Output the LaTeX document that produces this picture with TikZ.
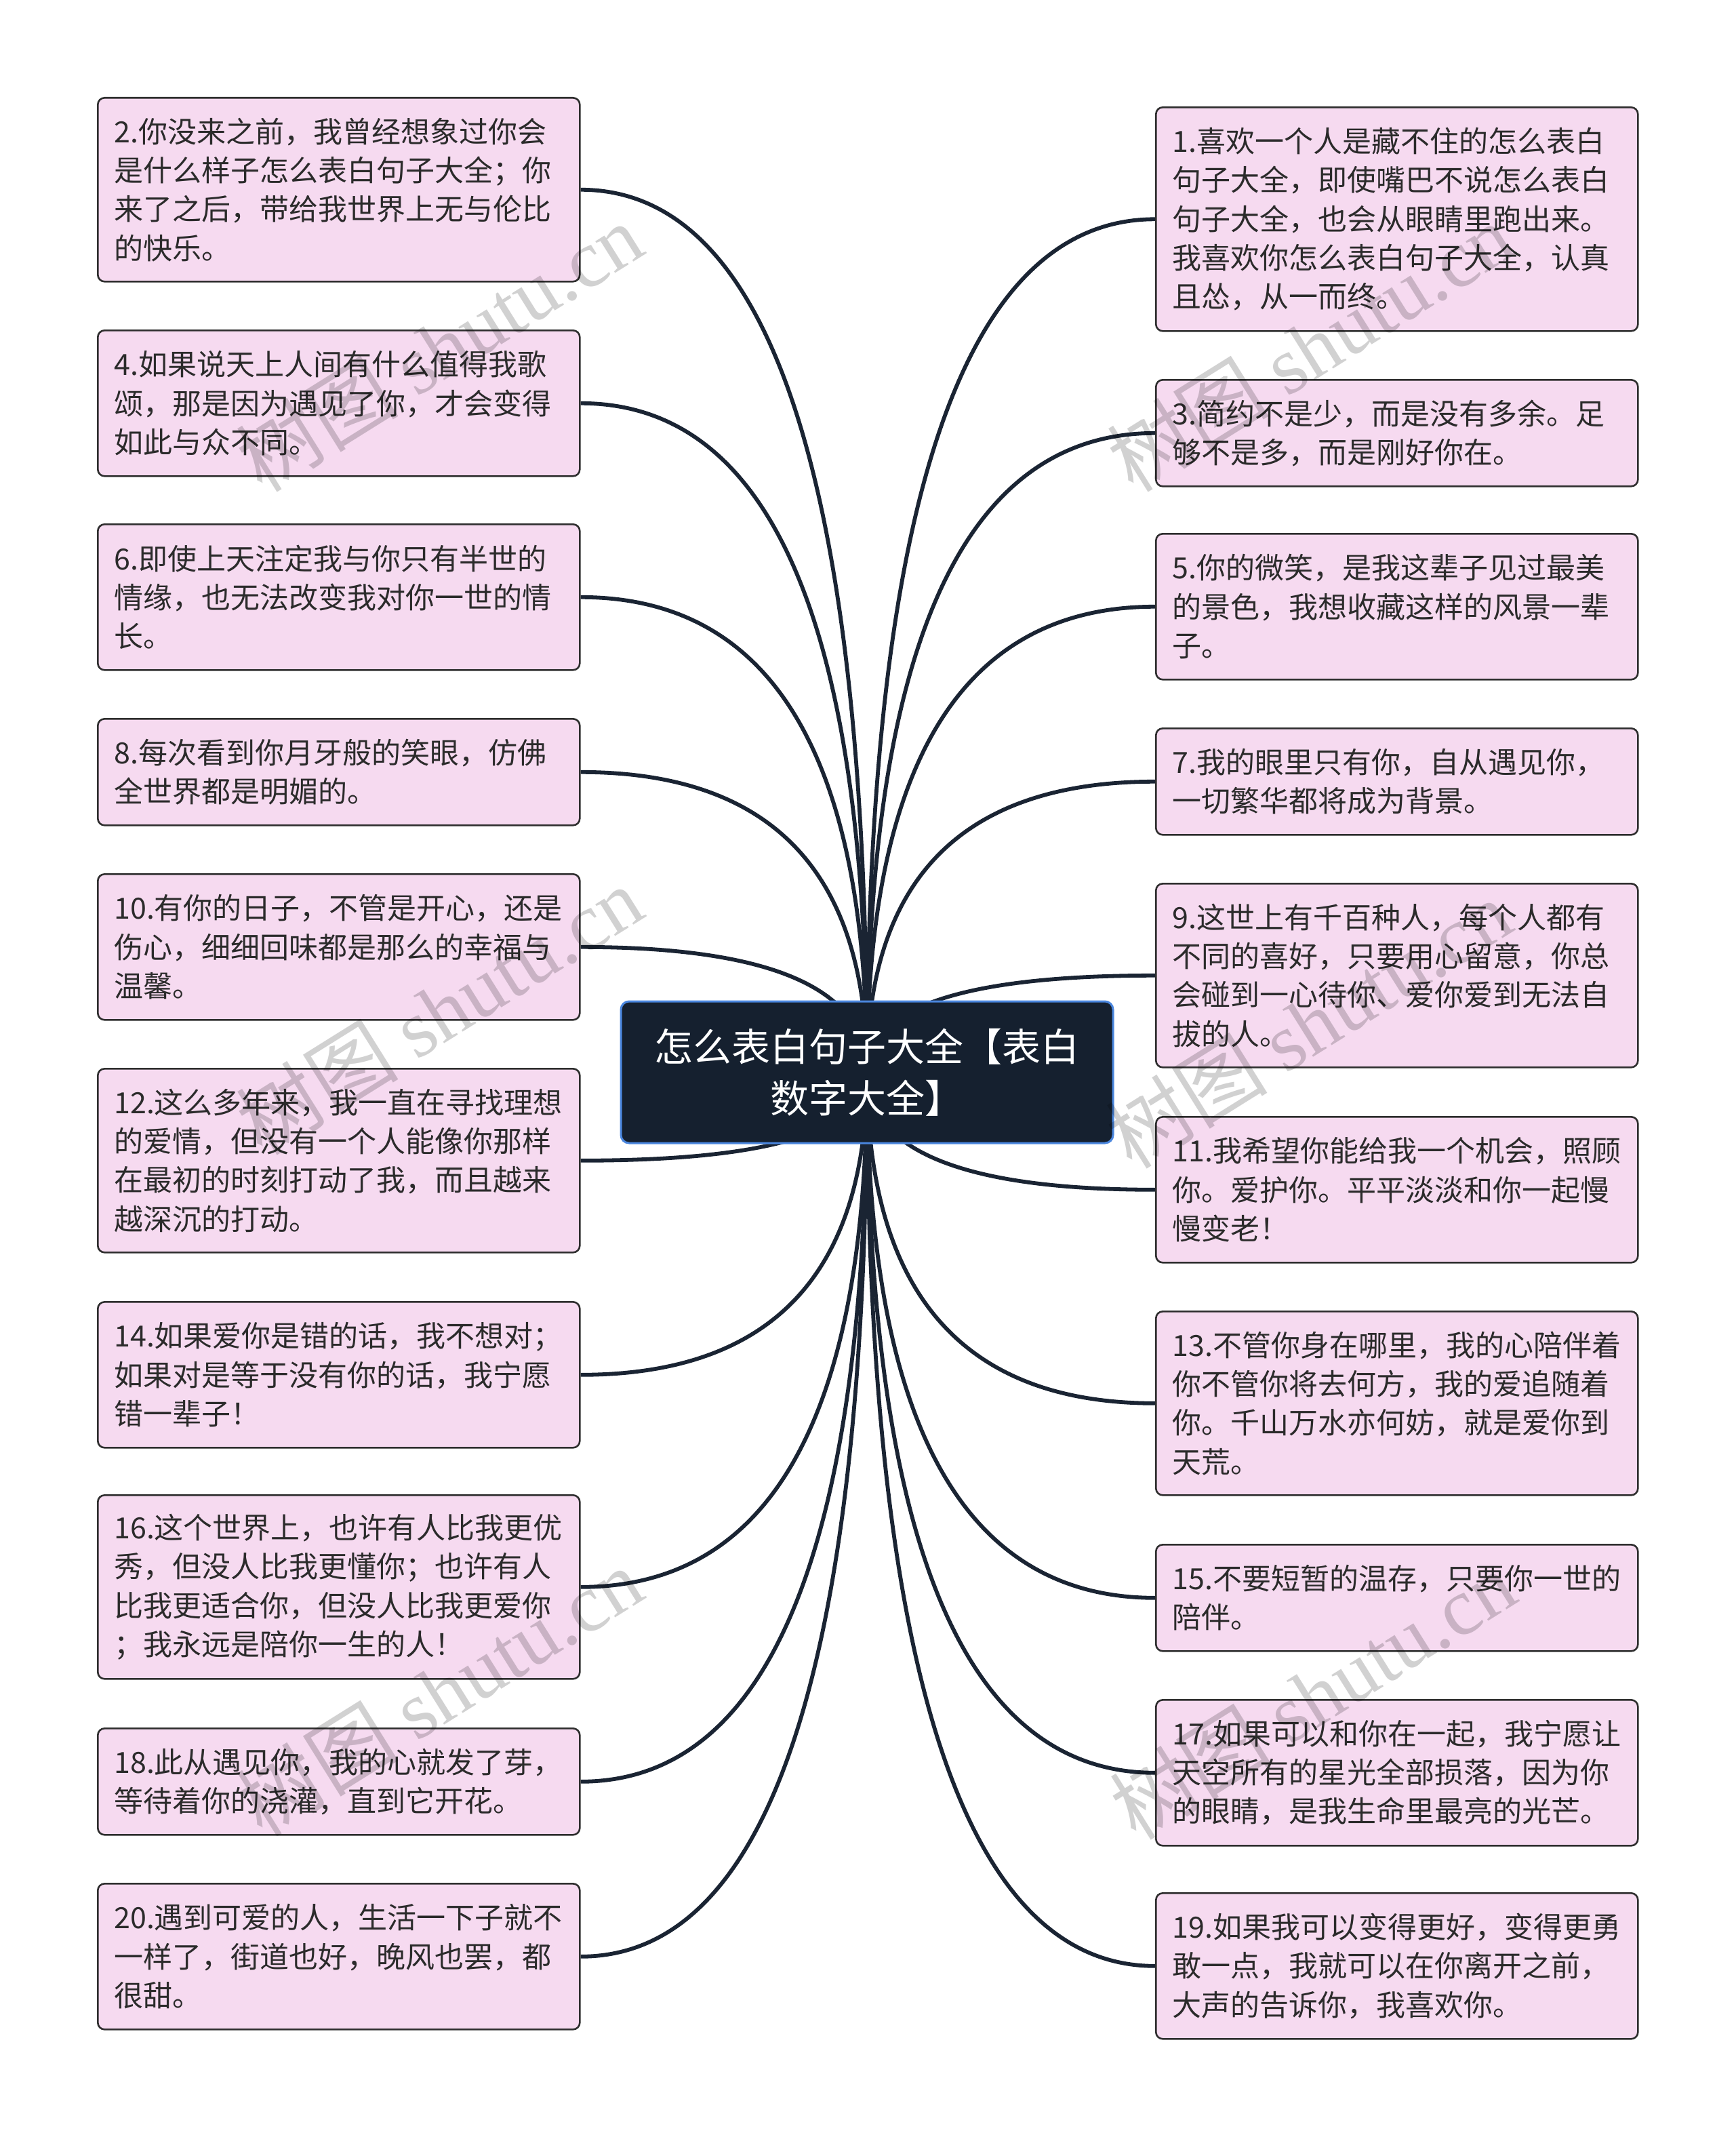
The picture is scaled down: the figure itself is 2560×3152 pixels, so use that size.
\documentclass[tikz,border=0pt]{standalone}
\usepackage{fontspec}
\setmainfont{Noto Sans CJK SC}
\newfontfamily\wmlatin{Liberation Serif}
\usetikzlibrary{calc,backgrounds}
\definecolor{boxfill}{HTML}{F6DAF0}
\definecolor{boxline}{HTML}{2E2E2E}
\definecolor{boxtext}{HTML}{2B2B2B}
\definecolor{connc}{HTML}{1A2433}
\definecolor{rootfill}{HTML}{15202F}
\definecolor{rootline}{HTML}{4A86DE}
\newcommand\Lc[1]{\draw[conn] (root.center) .. controls ($(root.center)!0.6667!(root.center|-#1.east)$) and ($(#1.east)!0.6667!(root.center|-#1.east)$) .. (#1.east);}
\newcommand\Rc[1]{\draw[conn] (root.center) .. controls ($(root.center)!0.6667!(root.center|-#1.west)$) and ($(#1.west)!0.6667!(root.center|-#1.west)$) .. (#1.west);}
\begin{document}
\begin{tikzpicture}[x=0.5pt,y=-0.5pt,
  box/.style={draw=boxline, line width=1.3pt, fill=boxfill, rounded corners=5pt,
    text=boxtext, font=\fontsize{21.5pt}{28.65pt}\selectfont, text width=331.5pt,
    inner xsep=12pt, inner ysep=0pt, align=left, anchor=north west},
  ln2/.style={minimum height=78.5pt},
  ln3/.style={minimum height=107.5pt},
  ln4/.style={minimum height=135.5pt},
  ln5/.style={minimum height=165pt},
  rootbox/.style={fill=rootfill, draw=rootline, line width=1.5pt, rounded corners=6pt,
    minimum width=363pt, minimum height=104.5pt, text=white, align=center,
    font=\fontsize{28.5pt}{38pt}\selectfont},
  conn/.style={draw=connc, line width=2.9pt},
  wm/.style={rotate=32, font=\fontsize{60pt}{60pt}\selectfont, text=black, text opacity=0.18}]
\useasboundingbox (0,0) rectangle (2560,3152);

% left column
\node[box,ln4] (n2) at (143,143) {2.你没来之前，我曾经想象过你会\\是什么样子怎么表白句子大全；你\\来了之后，带给我世界上无与伦比\\的快乐。};
\node[box,ln3] (n4) at (143,486) {4.如果说天上人间有什么值得我歌\\颂，那是因为遇见了你，才会变得\\如此与众不同。};
\node[box,ln3] (n6) at (143,772) {6.即使上天注定我与你只有半世的\\情缘，也无法改变我对你一世的情\\长。};
\node[box,ln2] (n8) at (143,1059) {8.每次看到你月牙般的笑眼，仿佛\\全世界都是明媚的。};
\node[box,ln3] (n10) at (143,1288) {10.有你的日子，不管是开心，还是\\伤心，细细回味都是那么的幸福与\\温馨。};
\node[box,ln4] (n12) at (143,1575) {12.这么多年来，我一直在寻找理想\\的爱情，但没有一个人能像你那样\\在最初的时刻打动了我，而且越来\\越深沉的打动。};
\node[box,ln3] (n14) at (143,1919) {14.如果爱你是错的话，我不想对；\\如果对是等于没有你的话，我宁愿\\错一辈子！};
\node[box,ln4] (n16) at (143,2204) {16.这个世界上，也许有人比我更优\\秀，但没人比我更懂你；也许有人\\比我更适合你，但没人比我更爱你\\；我永远是陪你一生的人！};
\node[box,ln2] (n18) at (143,2548) {18.此从遇见你，我的心就发了芽，\\等待着你的浇灌，直到它开花。};
\node[box,ln3] (n20) at (143,2777) {20.遇到可爱的人，生活一下子就不\\一样了，街道也好，晚风也罢，都\\很甜。};

% right column
\node[box,ln5] (n1) at (1704,157) {1.喜欢一个人是藏不住的怎么表白\\句子大全，即使嘴巴不说怎么表白\\句子大全，也会从眼睛里跑出来。\\我喜欢你怎么表白句子大全，认真\\且怂，从一而终。};
\node[box,ln2] (n3) at (1704,559) {3.简约不是少，而是没有多余。足\\够不是多，而是刚好你在。};
\node[box,ln3] (n5) at (1704,786) {5.你的微笑，是我这辈子见过最美\\的景色，我想收藏这样的风景一辈\\子。};
\node[box,ln2] (n7) at (1704,1073) {7.我的眼里只有你，自从遇见你，\\一切繁华都将成为背景。};
\node[box,ln4] (n9) at (1704,1302) {9.这世上有千百种人，每个人都有\\不同的喜好，只要用心留意，你总\\会碰到一心待你、爱你爱到无法自\\拔的人。};
\node[box,ln3] (n11) at (1704,1646) {11.我希望你能给我一个机会，照顾\\你。爱护你。平平淡淡和你一起慢\\慢变老！};
\node[box,ln4] (n13) at (1704,1933) {13.不管你身在哪里，我的心陪伴着\\你不管你将去何方，我的爱追随着\\你。千山万水亦何妨，就是爱你到\\天荒。};
\node[box,ln2] (n15) at (1704,2277) {15.不要短暂的温存，只要你一世的\\陪伴。};
\node[box,ln3] (n17) at (1704,2506) {17.如果可以和你在一起，我宁愿让\\天空所有的星光全部损落，因为你\\的眼睛，是我生命里最亮的光芒。};
\node[box,ln3] (n19) at (1704,2791) {19.如果我可以变得更好，变得更勇\\敢一点，我就可以在你离开之前，\\大声的告诉你，我喜欢你。};

% root
\node[rootbox] (root) at (1279,1581.5) {怎么表白句子大全【表白\\数字大全】};

\begin{scope}[on background layer]
\fill[white] (0,0) rectangle (2560,3152);
\Lc{n2}\Lc{n4}\Lc{n6}\Lc{n8}\Lc{n10}\Lc{n12}\Lc{n14}\Lc{n16}\Lc{n18}\Lc{n20}
\Rc{n1}\Rc{n3}\Rc{n5}\Rc{n7}\Rc{n9}\Rc{n11}\Rc{n13}\Rc{n15}\Rc{n17}\Rc{n19}
\end{scope}

% watermarks
\node[wm] (w1) at (648,512) {树图 {\wmlatin shutu.cn}};
\node[wm] (w2) at (648,1490) {树图 {\wmlatin shutu.cn}};
\node[wm] (w3) at (648,2495) {树图 {\wmlatin shutu.cn}};
\node[wm] (w4) at (1932,512) {树图 {\wmlatin shutu.cn}};
\node[wm] (w5) at (1930,1510) {树图 {\wmlatin shutu.cn}};
\node[wm] (w6) at (1936,2500) {树图 {\wmlatin shutu.cn}};
\end{tikzpicture}
\end{document}
